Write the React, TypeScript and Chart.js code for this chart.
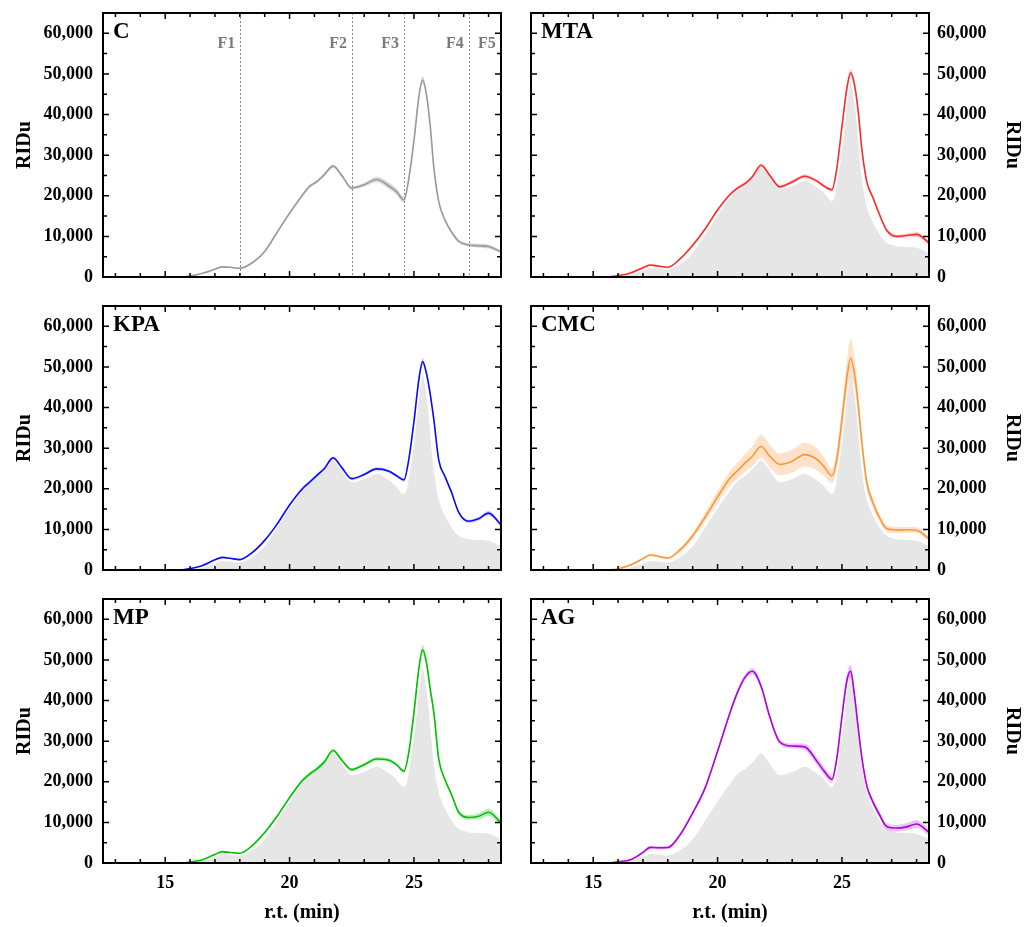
import React, { useEffect, useRef } from 'react';
import { Chart, registerables } from 'chart.js';

Chart.register(...registerables);

// retention time grid (min)
const rt = [12.5, 13, 14, 15, 15.7, 16, 16.5, 17, 17.3, 17.6, 18, 18.5, 19, 19.5, 20, 20.5, 20.8, 21.1, 21.4, 21.75, 22.1, 22.5, 23, 23.5, 24, 24.3, 24.6, 24.8, 25, 25.2, 25.35, 25.5, 25.65, 25.8, 26, 26.25, 26.5, 26.8, 27.2, 27.6, 28, 28.5];

const cMean = [0, 0, 0, 0, 50, 250, 900, 1900, 2500, 2400, 2150, 3500, 6300, 11000, 15700, 20000, 22300, 23500, 25200, 27300, 25000, 21900, 22700, 24000, 22400, 21000, 19000, 24500, 33500, 44500, 48500, 45000, 37500, 27000, 18500, 14000, 11200, 8800, 7900, 7700, 7500, 6200];
const cSd = [0, 0, 0, 0, 0, 50, 100, 150, 200, 200, 200, 200, 250, 300, 300, 350, 380, 400, 400, 400, 400, 400, 500, 700, 800, 800, 800, 700, 600, 800, 900, 800, 600, 500, 400, 400, 400, 400, 400, 500, 500, 400];

const mtaMean = [0, 0, 0, 0, 100, 350, 1000, 2300, 2950, 2700, 2400, 4500, 7800, 11800, 16500, 20300, 21900, 23000, 24700, 27500, 25000, 22200, 23400, 24800, 23600, 22300, 21500, 27000, 37000, 46500, 50300, 47500, 41000, 31500, 23500, 19500, 15500, 11500, 10000, 10200, 10500, 8400];
const mtaSd = [0, 0, 0, 0, 0, 50, 100, 200, 250, 250, 200, 200, 250, 300, 300, 350, 380, 400, 400, 500, 400, 400, 400, 500, 400, 400, 400, 500, 700, 900, 1000, 900, 700, 600, 500, 500, 400, 400, 400, 500, 600, 500];

const kpaMean = [0, 0, 0, 0, 80, 350, 1100, 2500, 3100, 2900, 2550, 4300, 7300, 11300, 16000, 19900, 21600, 23300, 25000, 27600, 25200, 22500, 23500, 24900, 24300, 23200, 22200, 27500, 36500, 47000, 51300, 48500, 43500, 37000, 27000, 23000, 19300, 14200, 12000, 12600, 14000, 11100];
const kpaSd = [0, 0, 0, 0, 0, 50, 100, 150, 200, 200, 200, 200, 250, 300, 300, 400, 400, 400, 400, 400, 400, 400, 400, 400, 400, 400, 400, 500, 600, 800, 900, 800, 700, 600, 500, 400, 400, 400, 400, 500, 600, 500];

const cmcMean = [null, null, null, null, 0, 300, 1250, 2800, 3700, 3400, 2950, 5000, 8450, 13000, 18000, 22600, 24400, 26300, 28000, 30400, 28000, 26000, 26800, 28400, 27200, 25300, 23200, 27500, 37000, 47500, 52200, 48500, 41000, 31500, 21500, 16500, 13000, 10200, 9850, 9900, 9800, 7700];
const cmcSd = [0, 0, 0, 0, 0, 100, 200, 250, 300, 300, 300, 500, 800, 1100, 1500, 1800, 2000, 2200, 2500, 2900, 2800, 2700, 2800, 2900, 2700, 2300, 1800, 2500, 3000, 4000, 4800, 4000, 3000, 2200, 1500, 1200, 1000, 800, 800, 700, 700, 500];

const mpMean = [null, null, null, null, 0, 250, 800, 2100, 2800, 2600, 2400, 4300, 7500, 11500, 16100, 20200, 21900, 23200, 24900, 27700, 25300, 23000, 24200, 25600, 25300, 24200, 22600, 27500, 37000, 48000, 52500, 49500, 43000, 37000, 25500, 20500, 17000, 12500, 11200, 11500, 12500, 9900];
const mpSd = [0, 0, 0, 0, 0, 50, 100, 150, 200, 200, 200, 200, 250, 300, 400, 500, 500, 500, 500, 500, 500, 400, 400, 500, 500, 400, 400, 500, 700, 1000, 1200, 1000, 800, 600, 500, 500, 500, 500, 600, 800, 900, 700];

const agMean = [null, null, null, null, 0, 300, 800, 2600, 3850, 3750, 3800, 7000, 12300, 18500, 27500, 37000, 42000, 45700, 47200, 43500, 36000, 29800, 28800, 28600, 25000, 22500, 20600, 26000, 36000, 45000, 47200, 41500, 33500, 26000, 19000, 15000, 12000, 9000, 8600, 8900, 9600, 7600];
const agSd = [0, 0, 0, 0, 0, 100, 200, 300, 400, 400, 400, 400, 400, 500, 500, 600, 700, 700, 800, 800, 700, 600, 600, 800, 900, 1000, 900, 900, 1000, 1300, 1600, 1300, 1000, 900, 800, 800, 800, 800, 800, 900, 1000, 800];

// axis ticks
const xTickValues = [15, 20, 25];
const xMinorTicks = [13, 14, 15, 16, 17, 18, 19, 20, 21, 22, 23, 24, 25, 26, 27, 28];
const yTickValues = [0, 10000, 20000, 30000, 40000, 50000, 60000];
const yMinorTicks = [5000, 10000, 15000, 20000, 25000, 30000, 35000, 40000, 45000, 50000, 55000, 60000];

// fractions (panel C)
const fractionBounds = [18.0, 22.5, 24.6, 27.2];
const fractionLabels = ['F1', 'F2', 'F3', 'F4', 'F5'];
const fractionLabelX = [17.46, 21.95, 24.04, 26.65, 27.93];

const FONT = "'Liberation Serif', 'Times New Roman', serif";

type PanelDef = {
  name: string;
  mean: (number | null)[];
  sd: number[];
  color: string;
  band: string;
  col: number;
  row: number;
  control?: boolean;
};

const panels: PanelDef[] = [
  { name: 'C', mean: cMean, sd: cSd, color: '#9a9a9a', band: 'rgba(150,150,150,0.35)', col: 0, row: 0, control: true },
  { name: 'MTA', mean: mtaMean, sd: mtaSd, color: '#ff2a2a', band: 'rgba(255,60,60,0.25)', col: 1, row: 0 },
  { name: 'KPA', mean: kpaMean, sd: kpaSd, color: '#0a0aff', band: 'rgba(40,40,255,0.2)', col: 0, row: 1 },
  { name: 'CMC', mean: cmcMean, sd: cmcSd, color: '#ff9633', band: 'rgba(255,160,80,0.3)', col: 1, row: 1 },
  { name: 'MP', mean: mpMean, sd: mpSd, color: '#00c000', band: 'rgba(40,200,40,0.3)', col: 0, row: 2 },
  { name: 'AG', mean: agMean, sd: agSd, color: '#b000e0', band: 'rgba(180,60,230,0.3)', col: 1, row: 2 },
];

const fmt = (v: number) => {
  const s = String(Math.round(v));
  return s.replace(/\B(?=(\d{3})+(?!\d))/g, ',');
};

const framePlugin = {
  id: 'frameTicks',
  afterDatasetsDraw(chart: any) {
    const { ctx, chartArea: a, scales } = chart;
    const xs = scales.x;
    const ys = scales.y;
    ctx.save();
    ctx.strokeStyle = '#000';
    ctx.lineWidth = 1.5;
    ctx.beginPath();
    xMinorTicks.forEach((v) => {
      const px = xs.getPixelForValue(v);
      const len = xTickValues.includes(v) ? 6 : 4;
      ctx.moveTo(px, a.bottom);
      ctx.lineTo(px, a.bottom - len);
      ctx.moveTo(px, a.top);
      ctx.lineTo(px, a.top + len);
    });
    yMinorTicks.forEach((v) => {
      const py = ys.getPixelForValue(v);
      const len = yTickValues.includes(v) ? 6 : 4;
      ctx.moveTo(a.left, py);
      ctx.lineTo(a.left + len, py);
      ctx.moveTo(a.right, py);
      ctx.lineTo(a.right - len, py);
    });
    ctx.stroke();
    ctx.lineWidth = 2;
    ctx.strokeRect(a.left, a.top, a.right - a.left, a.bottom - a.top);
    ctx.restore();
  },
};

const labelPlugin = {
  id: 'panelLabel',
  afterDraw(chart: any, _args: any, opts: any) {
    const { ctx, chartArea: a } = chart;
    ctx.save();
    ctx.fillStyle = '#000';
    ctx.font = `bold 23px ${FONT}`;
    ctx.textAlign = 'left';
    ctx.textBaseline = 'alphabetic';
    ctx.fillText(opts.text, a.left + 10, a.top + 25);
    ctx.restore();
  },
};

const fractionPlugin = {
  id: 'fractions',
  beforeDatasetsDraw(chart: any, _args: any, opts: any) {
    if (!opts.show) return;
    const { ctx, chartArea: a, scales } = chart;
    const xs = scales.x;
    ctx.save();
    ctx.strokeStyle = '#8a8a8a';
    ctx.lineWidth = 1;
    ctx.setLineDash([2, 2]);
    fractionBounds.forEach((v) => {
      const px = Math.round(xs.getPixelForValue(v)) + 0.5;
      ctx.beginPath();
      ctx.moveTo(px, a.top);
      ctx.lineTo(px, a.bottom);
      ctx.stroke();
    });
    ctx.setLineDash([]);
    ctx.fillStyle = '#7a7a7a';
    ctx.font = `bold 16px ${FONT}`;
    ctx.textAlign = 'center';
    ctx.textBaseline = 'alphabetic';
    fractionLabels.forEach((t, i) => {
      ctx.fillText(t, xs.getPixelForValue(fractionLabelX[i]), a.top + 35);
    });
    ctx.restore();
  },
};

function buildConfig(p: PanelDef) {
  const pts = (arr: (number | null)[]) => rt.map((x, i) => ({ x, y: arr[i] }));
  const upper = p.mean.map((m, i) => (m === null ? null : m + p.sd[i]));
  const lower = p.mean.map((m, i) => (m === null ? null : Math.max(0, m - p.sd[i])));
  const common = { pointRadius: 0, cubicInterpolationMode: 'monotone' as const };
  const datasets: any[] = [];
  if (!p.control) {
    datasets.push({
      ...common,
      data: pts(cMean),
      borderColor: '#ffffff',
      borderWidth: 2.5,
      backgroundColor: '#e6e6e6',
      fill: 'origin',
      order: 3,
    });
  }
  datasets.push({
    ...common,
    data: pts(upper),
    borderWidth: 0,
    borderColor: 'rgba(0,0,0,0)',
    backgroundColor: p.band,
    fill: '+1',
    order: 2,
  });
  datasets.push({
    ...common,
    data: pts(lower),
    borderWidth: 0,
    borderColor: 'rgba(0,0,0,0)',
    fill: false,
    order: 2,
  });
  datasets.push({
    ...common,
    data: pts(p.mean),
    borderColor: p.color,
    borderWidth: 1.6,
    fill: false,
    order: 1,
  });

  const showX = p.row === 2;
  const left = p.col === 0;
  return {
    type: 'line' as const,
    data: { datasets },
    plugins: [framePlugin, labelPlugin, fractionPlugin],
    options: {
      responsive: false,
      animation: false as const,
      devicePixelRatio: 1,
      layout: {
        padding: {
          top: 13,
          bottom: 0,
          left: left ? 0 : 16,
          right: left ? 9 : 0,
        },
      },
      plugins: {
        legend: { display: false },
        tooltip: { enabled: false },
        panelLabel: { text: p.name },
        fractions: { show: !!p.control },
      },
      scales: {
        x: {
          type: 'linear' as const,
          position: 'bottom' as const,
          min: 12.5,
          max: 28.5,
          afterBuildTicks: (s: any) => {
            s.ticks = xTickValues.map((v) => ({ value: v }));
          },
          afterFit: (s: any) => {
            s.height = showX ? 64 : 13;
            s.paddingLeft = 0;
            s.paddingRight = 0;
            s.paddingTop = 0;
            s.paddingBottom = 0;
          },
          grid: { display: false, drawTicks: false },
          border: { display: false },
          ticks: {
            display: showX,
            padding: 10,
            autoSkip: false,
            maxRotation: 0,
            color: '#000',
            font: { family: FONT, size: 18, weight: 'bold' as const },
          },
          title: {
            display: showX,
            text: 'r.t. (min)',
            color: '#000',
            font: { family: FONT, size: 20, weight: 'bold' as const },
            padding: { top: 0, bottom: 2 },
          },
        },
        y: {
          type: 'linear' as const,
          position: (left ? 'left' : 'right') as any,
          min: 0,
          max: 65000,
          afterBuildTicks: (s: any) => {
            s.ticks = yTickValues.map((v) => ({ value: v }));
          },
          afterFit: (s: any) => {
            s.width = 103;
            s.paddingLeft = 0;
            s.paddingRight = 0;
            s.paddingTop = 0;
            s.paddingBottom = 0;
          },
          grid: { display: false, drawTicks: false },
          border: { display: false },
          ticks: {
            padding: left ? 10 : 8,
            color: '#000',
            font: { family: FONT, size: 18, weight: 'bold' as const },
            callback: (v: any) => fmt(Number(v)),
          },
          title: {
            display: true,
            text: 'RIDu',
            color: '#000',
            font: { family: FONT, size: 20, weight: 'bold' as const },
            padding: { top: left ? 13 : 8, bottom: 0 },
          },
        },
      },
    },
  };
}

const colLeft = [0, 515];
const colWidth = [510, 517];
const rowTop = [0, 293, 586];
const rowHeight = [290, 290, 341];

function PanelChart({ p }: { p: PanelDef }) {
  const ref = useRef<HTMLCanvasElement>(null);
  useEffect(() => {
    if (!ref.current) return;
    const chart = new Chart(ref.current, buildConfig(p) as any);
    return () => chart.destroy();
  }, [p]);
  const w = colWidth[p.col];
  const h = rowHeight[p.row];
  return (
    <canvas
      ref={ref}
      width={w}
      height={h}
      style={{
        position: 'absolute',
        left: colLeft[p.col],
        top: rowTop[p.row],
        width: w,
        height: h,
        display: 'block',
      }}
    />
  );
}

export default function App() {
  return (
    <div style={{ position: 'absolute', left: 0, top: 0, width: 1032, height: 927, background: '#fff' }}>
      {panels.map((p) => (
        <PanelChart key={p.name} p={p} />
      ))}
    </div>
  );
}
